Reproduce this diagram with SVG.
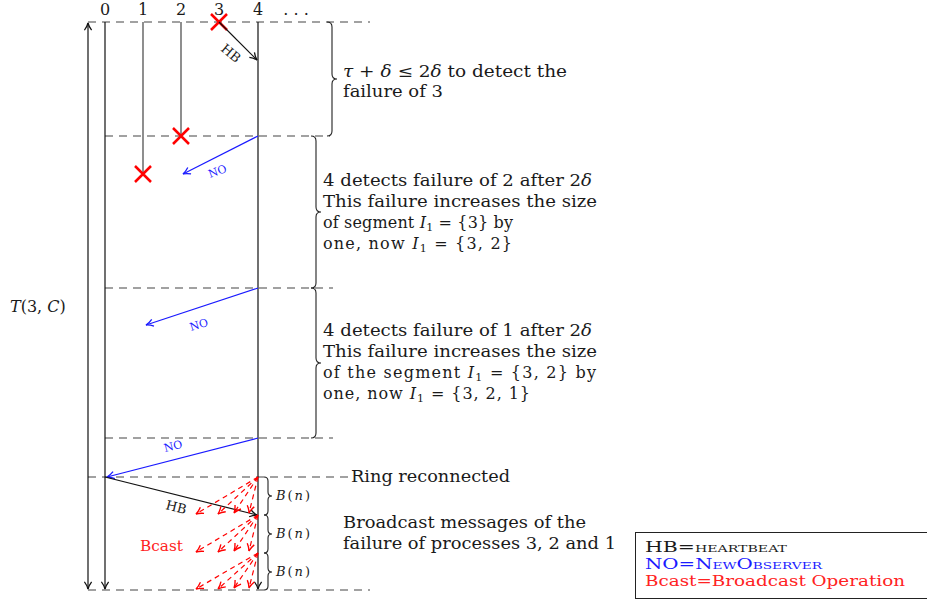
<svg xmlns="http://www.w3.org/2000/svg" width="927" height="601" viewBox="0 0 927 601">
<style>
text{font-family:"DejaVu Serif","Liberation Serif",serif;fill:#1a1a1a}
.t{font-size:16px}
.lg{font-size:14.5px}
.dash{stroke:#444;stroke-width:1.2;stroke-dasharray:8 6;fill:none}
.ln{stroke:#111;stroke-width:1.2;fill:none}
.gl{stroke:#444;stroke-width:1.2;fill:none}
.x{stroke:#f00;stroke-width:2.5;fill:none}
.br{stroke:#222;stroke-width:1.1;fill:none}
.blue{stroke:#1a1aff;stroke-width:1.2;fill:none}
.bc{stroke:#f00;stroke-width:1.2;stroke-dasharray:5 4;fill:none}
</style>
<defs>
<marker id="ak" viewBox="0 0 10 10" refX="9" refY="5" markerWidth="9" markerHeight="9" markerUnits="userSpaceOnUse" orient="auto-start-reverse"><path d="M1,1 Q5,4 9,5 Q5,6 1,9" fill="none" stroke="#111" stroke-width="1.4"/></marker>
<marker id="ab" viewBox="0 0 10 10" refX="9" refY="5" markerWidth="9" markerHeight="9" markerUnits="userSpaceOnUse" orient="auto"><path d="M1,1 Q5,4 9,5 Q5,6 1,9" fill="none" stroke="#1a1aff" stroke-width="1.4"/></marker>
<marker id="ar" viewBox="0 0 10 10" refX="9" refY="5" markerWidth="9" markerHeight="9" markerUnits="userSpaceOnUse" orient="auto"><path d="M1,1 Q5,4 9,5 Q5,6 1,9" fill="none" stroke="#f00" stroke-width="1.5"/></marker>
</defs>
<rect width="927" height="601" fill="#fff"/>

<g id="labels">
<text x="105" y="15" text-anchor="middle" class="t">0</text>
<text x="143" y="15" text-anchor="middle" class="t">1</text>
<text x="181" y="15" text-anchor="middle" class="t">2</text>
<text x="219" y="15" text-anchor="middle" class="t">3</text>
<text x="258" y="15" text-anchor="middle" class="t">4</text>
<text x="296" y="15" text-anchor="middle" class="t">. . .</text>
<text x="10" y="312" class="t" font-style="italic">T<tspan font-style="normal">(3, </tspan>C<tspan font-style="normal">)</tspan></text>
</g>

<g id="timelines">
<line class="dash" x1="88" y1="22" x2="370" y2="22"/>
<line class="dash" x1="105" y1="136" x2="330" y2="136"/>
<line class="dash" x1="105" y1="288" x2="333" y2="288"/>
<line class="dash" x1="105" y1="438" x2="333" y2="438"/>
<line class="dash" x1="88" y1="477" x2="350" y2="477"/>
<line class="dash" x1="88" y1="590" x2="370" y2="590"/>
<line class="ln" x1="88" y1="23" x2="88" y2="589" marker-start="url(#ak)" marker-end="url(#ak)"/>
<line class="ln" x1="105" y1="22" x2="105" y2="589" marker-end="url(#ak)"/>
<line class="gl" x1="143" y1="22" x2="143" y2="174"/>
<line class="gl" x1="181" y1="22" x2="181" y2="136"/>
<line class="ln" x1="258" y1="22" x2="258" y2="589" marker-end="url(#ak)"/>
</g>

<g id="failures">
<path class="x" d="M211,14 L227,30 M227,14 L211,30"/>
<path class="x" d="M173,128 L189,144 M189,128 L173,144"/>
<path class="x" d="M135,166 L151,182 M151,166 L135,182"/>
</g>

<g id="connectors">
<line class="ln" x1="219" y1="22" x2="257" y2="60" marker-end="url(#ak)"/>
<text transform="translate(220,50) rotate(40)" font-size="13">HB</text>
<line class="blue" x1="258" y1="136" x2="183" y2="174" marker-end="url(#ab)"/>
<text transform="translate(210,178) rotate(-20)" font-size="15" font-variant="small-caps" style="fill:#1a1aff">no</text>
<line class="blue" x1="258" y1="288" x2="146" y2="325" marker-end="url(#ab)"/>
<text transform="translate(191,331) rotate(-17)" font-size="15" font-variant="small-caps" style="fill:#1a1aff">no</text>
<line class="blue" x1="258" y1="438" x2="107" y2="477" marker-end="url(#ab)"/>
<text transform="translate(165,452) rotate(-14)" font-size="15" font-variant="small-caps" style="fill:#1a1aff">no</text>
<line class="ln" x1="105" y1="477" x2="257" y2="515" marker-end="url(#ak)"/>
<text transform="translate(165,509) rotate(14)" font-size="13">HB</text>
</g>

<g id="broadcasts">
<g id="b1">
<line class="bc" x1="258" y1="477" x2="196" y2="514" marker-end="url(#ar)"/>
<line class="bc" x1="258" y1="477" x2="218" y2="514" marker-end="url(#ar)"/>
<line class="bc" x1="258" y1="477" x2="234" y2="513" marker-end="url(#ar)"/>
<line class="bc" x1="258" y1="477" x2="249" y2="513" marker-end="url(#ar)"/>
</g>
<g id="b2">
<line class="bc" x1="258" y1="515" x2="196" y2="552" marker-end="url(#ar)"/>
<line class="bc" x1="258" y1="515" x2="218" y2="552" marker-end="url(#ar)"/>
<line class="bc" x1="258" y1="515" x2="234" y2="551" marker-end="url(#ar)"/>
<line class="bc" x1="258" y1="515" x2="249" y2="551" marker-end="url(#ar)"/>
</g>
<g id="b3">
<line class="bc" x1="258" y1="553" x2="196" y2="589" marker-end="url(#ar)"/>
<line class="bc" x1="258" y1="553" x2="218" y2="589" marker-end="url(#ar)"/>
<line class="bc" x1="258" y1="553" x2="234" y2="588" marker-end="url(#ar)"/>
<line class="bc" x1="258" y1="553" x2="249" y2="588" marker-end="url(#ar)"/>
</g>
<text x="140" y="551" font-size="14" style="fill:#f22" textLength="43" lengthAdjust="spacingAndGlyphs">Bcast</text>
</g>

<g id="braces">
<path class="br" d="M327,22 Q332,22 332,27 L332,74 Q332,79 337,79 Q332,79 332,84 L332,131 Q332,136 327,136"/>
<path class="br" d="M311,136 Q316,136 316,141 L316,207 Q316,212 321,212 Q316,212 316,217 L316,283 Q316,288 311,288"/>
<path class="br" d="M311,288 Q316,288 316,293 L316,358 Q316,363 321,363 Q316,363 316,368 L316,433 Q316,438 311,438"/>
<path class="br" d="M264,477 Q268,477 268,481 L268,492 Q268,496 272,496 Q268,496 268,500 L268,511 Q268,515 264,515"/>
<path class="br" d="M264,515 Q268,515 268,519 L268,530 Q268,534 272,534 Q268,534 268,538 L268,549 Q268,553 264,553"/>
<path class="br" d="M264,553 Q268,553 268,557 L268,568 Q268,572 272,572 Q268,572 268,576 L268,586 Q268,590 264,590"/>
<text x="276" y="500" font-size="13" font-style="italic" textLength="34">B<tspan font-style="normal">(</tspan>n<tspan font-style="normal">)</tspan></text>
<text x="276" y="538" font-size="13" font-style="italic" textLength="34">B<tspan font-style="normal">(</tspan>n<tspan font-style="normal">)</tspan></text>
<text x="276" y="576" font-size="13" font-style="italic" textLength="34">B<tspan font-style="normal">(</tspan>n<tspan font-style="normal">)</tspan></text>
</g>

<g id="notes">
<text x="343" y="77" class="t" textLength="224" lengthAdjust="spacingAndGlyphs"><tspan font-style="italic">τ</tspan> + <tspan font-style="italic">δ</tspan> ≤ 2<tspan font-style="italic">δ</tspan> to detect the</text>
<text x="343" y="97" class="t" textLength="100" lengthAdjust="spacingAndGlyphs">failure of 3</text>
<text x="323" y="186" class="t" textLength="269" lengthAdjust="spacingAndGlyphs">4 detects failure of 2 after 2<tspan font-style="italic">δ</tspan></text>
<text x="323" y="207" class="t" textLength="274" lengthAdjust="spacingAndGlyphs">This failure increases the size</text>
<text x="323" y="228" class="t" textLength="190">of segment <tspan font-style="italic">I</tspan><tspan font-size="11" dy="3">1</tspan><tspan dy="-3"> = {3} by</tspan></text>
<text x="323" y="249" class="t" textLength="189">one, now <tspan font-style="italic">I</tspan><tspan font-size="11" dy="3">1</tspan><tspan dy="-3"> = {3, 2}</tspan></text>
<text x="323" y="336" class="t" textLength="269" lengthAdjust="spacingAndGlyphs">4 detects failure of 1 after 2<tspan font-style="italic">δ</tspan></text>
<text x="323" y="357" class="t" textLength="274" lengthAdjust="spacingAndGlyphs">This failure increases the size</text>
<text x="323" y="378" class="t" textLength="273">of the segment <tspan font-style="italic">I</tspan><tspan font-size="11" dy="3">1</tspan><tspan dy="-3"> = {3, 2} by</tspan></text>
<text x="323" y="399" class="t" textLength="207">one, now <tspan font-style="italic">I</tspan><tspan font-size="11" dy="3">1</tspan><tspan dy="-3"> = {3, 2, 1}</tspan></text>
<text x="351" y="482" class="t" textLength="159" lengthAdjust="spacingAndGlyphs">Ring reconnected</text>
<text x="343" y="528" class="t" textLength="243" lengthAdjust="spacingAndGlyphs">Broadcast messages of the</text>
<text x="343" y="549" class="t" textLength="273" lengthAdjust="spacingAndGlyphs">failure of processes 3, 2 and 1</text>
</g>

<g id="legend">
<rect x="635.5" y="532.5" width="295" height="66" fill="#fff" stroke="#222" stroke-width="1"/>
<text x="645" y="552" class="lg" textLength="142" lengthAdjust="spacingAndGlyphs">HB=<tspan font-variant="small-caps">heartbeat</tspan></text>
<text x="645" y="569" class="lg" style="fill:#1a1aff" textLength="177" lengthAdjust="spacingAndGlyphs">NO=<tspan font-variant="small-caps" style="fill:#1a1aff">NewObserver</tspan></text>
<text x="645" y="586" class="lg" style="fill:#f22" textLength="260" lengthAdjust="spacingAndGlyphs">Bcast=Broadcast Operation</text>
</g>
</svg>
